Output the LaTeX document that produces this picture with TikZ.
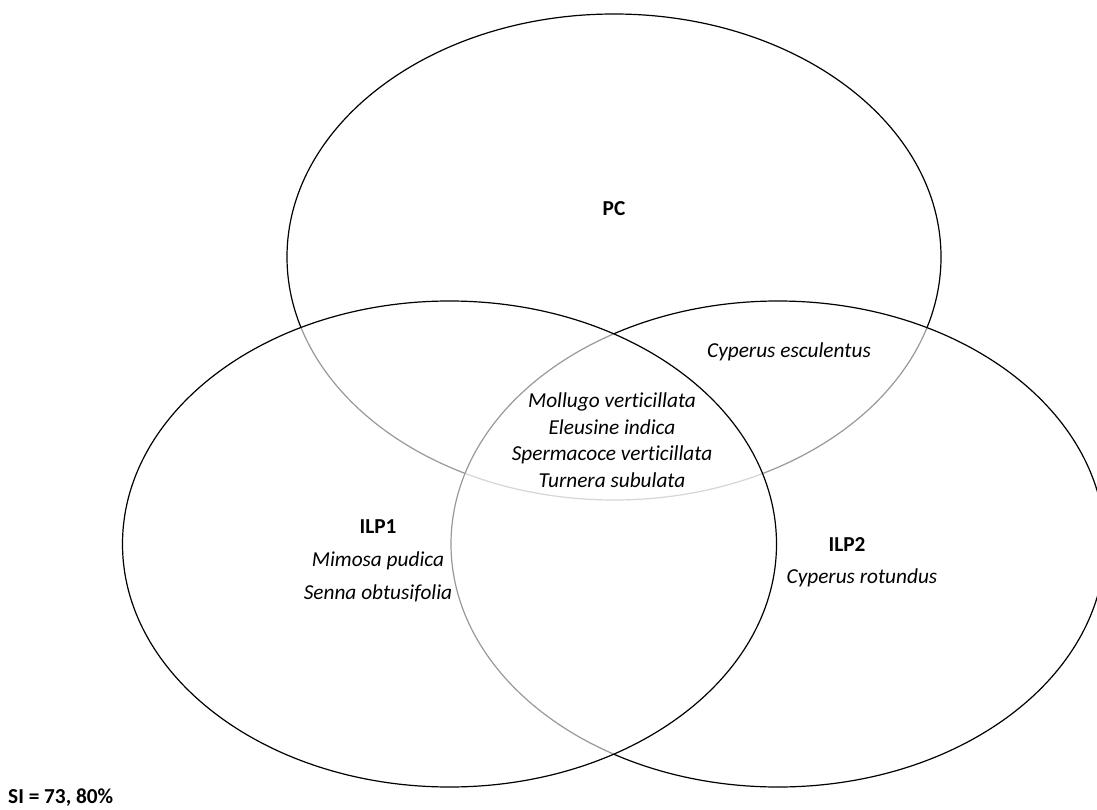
\documentclass[tikz,border=0pt]{standalone}
\usepackage{fontspec}
\setmainfont{Carlito}[Ligatures={NoCommon}]
\usetikzlibrary{shapes.geometric}
\begin{document}
\begin{tikzpicture}[x=1pt,y=-1pt,
  setshape/.style={ellipse, draw=black, line width=1.2pt, fill=white, fill opacity=0.6, draw opacity=1,
    minimum width=654pt, minimum height=486pt, inner sep=0pt},
  lbl/.style={font=\fontsize{21.3}{26}\selectfont\bfseries, inner sep=0pt},
  sp/.style={font=\fontsize{21.3}{26.5}\selectfont\itshape, inner sep=0pt, align=center}]
\useasboundingbox (0,0) rectangle (1097,810);
\node[setshape] (pc) at (614,257) {};
\node[setshape] (ilptwo) at (778,544) {};
\node[setshape] (ilpone) at (449.5,544) {};
\node[lbl] (pclbl) at (614,209) {PC};
\node[sp] (cesc) at (789,352) {Cyperus esculentus};
\node[sp] (core) at (612,440) {Mollugo verticillata\\Eleusine indica\\Spermacoce verticillata\\Turnera subulata};
\node[lbl] (ilponelbl) at (378,527) {ILP1};
\node[sp] (mimosa) at (378,561) {Mimosa pudica};
\node[sp] (senna) at (378,593) {Senna obtusifolia};
\node[lbl] (ilptwolbl) at (847,545) {ILP2};
\node[sp] (crot) at (862,578) {Cyperus rotundus};
\node[lbl, anchor=west] (si) at (8,798) {SI = 73, 80\%};
\end{tikzpicture}
\end{document}
